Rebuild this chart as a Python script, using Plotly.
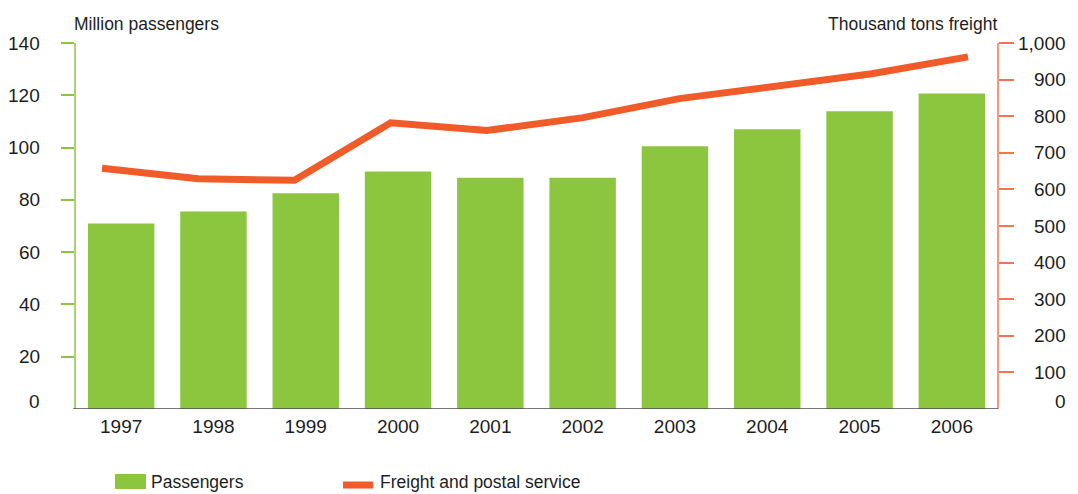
import plotly.graph_objects as go

# Annual traffic figures
years = [1997, 1998, 1999, 2000, 2001, 2002, 2003, 2004, 2005, 2006]
passengers_mn = [71.0, 75.5, 82.5, 90.8, 88.5, 88.5, 100.5, 107.0, 113.9, 120.7]
freight_kt = [658, 629, 625, 782, 761, 796, 848, 880, 916, 962]

left_ticks = [0, 20, 40, 60, 80, 100, 120, 140]
right_ticks = [0, 100, 200, 300, 400, 500, 600, 700, 800, 900, 1000]
right_tick_text = ["0", "100", "200", "300", "400", "500", "600", "700", "800", "900", "1,000"]

GREEN = "#8cc63f"
ORANGE = "#f15a29"
ORANGE_AXIS = "#f37450"
TEXT = "#1e1e1e"
FONT = "Liberation Sans, Arial, Helvetica, sans-serif"

fig = go.Figure()

fig.add_trace(go.Bar(
    x=[str(y) for y in years], y=passengers_mn,
    marker=dict(color=GREEN, line=dict(width=0)),
    name="Passengers", showlegend=False,
    xaxis="x", yaxis="y",
))

fig.add_trace(go.Scatter(
    x=years, y=freight_kt, mode="lines",
    line=dict(color=ORANGE, width=7),
    name="Freight and postal service", showlegend=False,
    xaxis="x2", yaxis="y2",
))

fig.update_layout(
    width=1078, height=494,
    margin=dict(l=75, r=80, t=43, b=85),
    paper_bgcolor="white", plot_bgcolor="white",
    font=dict(family=FONT, color=TEXT, size=17.5),
    bargap=0.28,
    xaxis=dict(
        type="category", showgrid=False, zeroline=False, showline=False,
        ticks="", tickfont=dict(size=19, color=TEXT), ticklabelstandoff=4,
    ),
    xaxis2=dict(
        overlaying="x", range=[1997 - 0.281, 2006 + 0.312],
        visible=False, showgrid=False, zeroline=False,
    ),
    yaxis=dict(
        range=[0, 140], tickvals=left_ticks[1:], showticklabels=False,
        ticks="outside", ticklen=13, tickwidth=1.5, tickcolor=GREEN,
        showgrid=False, zeroline=False, showline=False,
    ),
    yaxis2=dict(
        range=[0, 1000], overlaying="y", side="right",
        tickvals=right_ticks[1:], showticklabels=False,
        ticks="outside", ticklen=15, tickwidth=1.5, tickcolor=ORANGE_AXIS,
        showgrid=False, zeroline=False, showline=False,
    ),
)

shapes = [
    # vertical axis lines, running slightly above the top tick
    dict(type="line", xref="paper", yref="y", x0=0, x1=0, y0=0, y1=142.9,
         line=dict(color=GREEN, width=1.5)),
    dict(type="line", xref="paper", yref="y", x0=1, x1=1, y0=0, y1=142.9,
         line=dict(color=ORANGE_AXIS, width=1.5)),
    # baseline
    dict(type="line", xref="paper", yref="y", x0=-0.002, x1=1, y0=0, y1=0,
         line=dict(color="#4a4a4a", width=1.5)),
    # legend swatches
    dict(type="rect", xref="paper", yref="paper", x0=0.0433, x1=0.0769,
         y0=-0.2186, y1=-0.1776, fillcolor=GREEN, line=dict(width=0)),
    dict(type="line", xref="paper", yref="paper", x0=0.2904, x1=0.3229,
         y0=-0.2077, y1=-0.2077, line=dict(color=ORANGE, width=7)),
]

annotations = []
# left axis tick labels
for v in left_ticks:
    annotations.append(dict(
        x=0, xref="paper", y=v, yref="y", text=str(v), showarrow=False,
        xanchor="right", yanchor="middle", xshift=-33, yshift=8 if v == 0 else 0,
        font=dict(size=19, color=TEXT),
    ))
# right axis tick labels
for v, t in zip(right_ticks, right_tick_text):
    annotations.append(dict(
        x=1, xref="paper", y=v, yref="y2", text=t, showarrow=False,
        xanchor="right", yanchor="middle", xshift=70, yshift=8 if v == 0 else 0,
        font=dict(size=19, color=TEXT),
    ))
# axis titles
annotations += [
    dict(x=0, xref="paper", y=1.052, yref="paper", text="Million passengers",
         showarrow=False, xanchor="left", yanchor="middle", xshift=-3),
    dict(x=0.9978, xref="paper", y=1.052, yref="paper", text="Thousand tons freight",
         showarrow=False, xanchor="right", yanchor="middle", xshift=3),
    # legend labels
    dict(x=0.0834, xref="paper", y=-0.1995, yref="paper", text="Passengers",
         showarrow=False, xanchor="left", yanchor="middle", xshift=-3),
    dict(x=0.3315, xref="paper", y=-0.1995, yref="paper", text="Freight and postal service",
         showarrow=False, xanchor="left", yanchor="middle", xshift=-3),
]

fig.update_layout(shapes=shapes, annotations=annotations)

fig.write_html("out.html")
